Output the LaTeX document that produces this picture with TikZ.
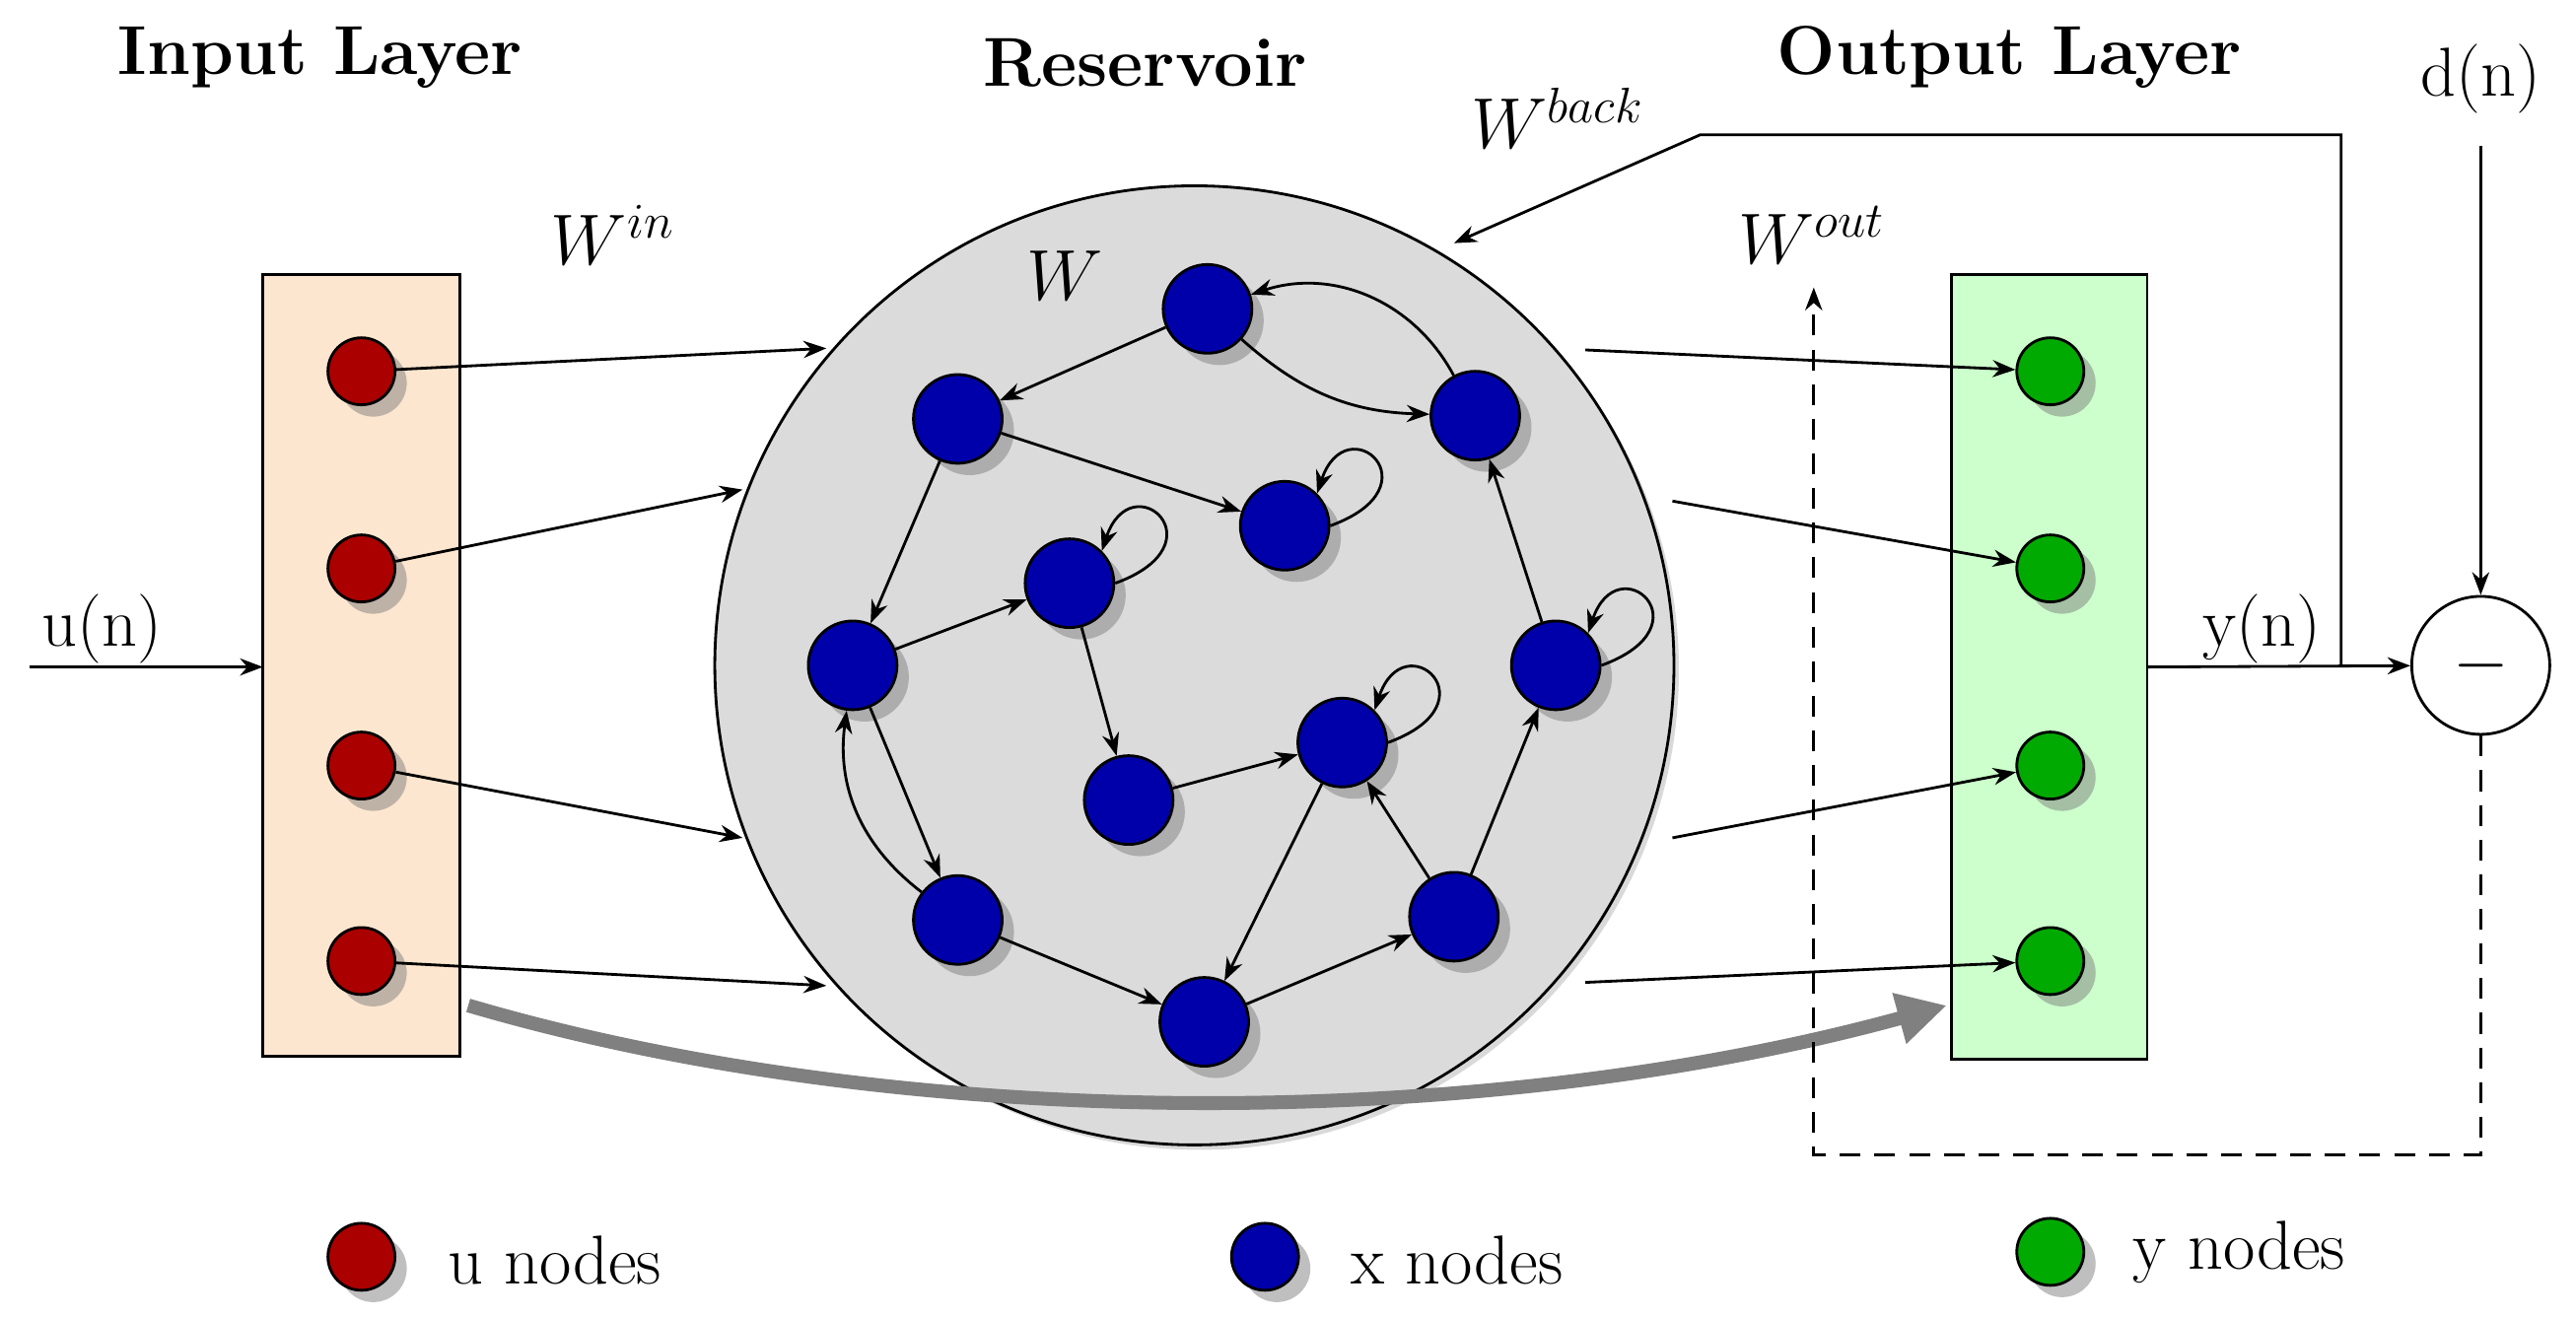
\documentclass[tikz,border=0pt]{standalone}
\usetikzlibrary{shadows,arrows.meta}
\begin{document}
\begin{tikzpicture}[x=1cm/60,y=-1cm/60,>=Stealth,
  every node/.style={font=\fontsize{20}{24}\selectfont},
  unode/.style={circle,draw,thick,fill={rgb,255:red,170;green,0;blue,0},minimum size=0.68cm,inner sep=0pt,drop shadow={shadow xshift=0.12cm,shadow yshift=-0.12cm}},
  ynode/.style={unode,fill={rgb,255:red,0;green,170;blue,0}},
  xnode/.style={circle,draw,thick,fill={rgb,255:red,0;green,0;blue,170},minimum size=0.9cm,inner sep=0pt,drop shadow={shadow xshift=0.12cm,shadow yshift=-0.12cm}},
  con/.style={->,thick},
  title/.style={font=\fontsize{20}{24}\selectfont\bfseries}]
\useasboundingbox (0,0) rectangle (1568,802);
% layers
\draw[thick,fill={rgb,255:red,253;green,230;blue,207}] (160,167) rectangle (280,643);
\draw[thick,fill={rgb,255:red,204;green,255;blue,204}] (1188,167) rectangle (1307,645);
\node[circle,draw,thick,fill=black!14,minimum size=9.73cm,drop shadow={shadow xshift=0.05cm,shadow yshift=-0.05cm,opacity=0.3}] (res) at (727,405) {};
% titles
\node[title] (ti) at (195,35) {Input Layer};
\node[title] (tr) at (697,38) {Reservoir};
\node[title] (to) at (1223,35) {Output Layer};
% u / y nodes
\foreach \i/\y in {1/226,2/346,3/466,4/585}{
  \node[unode] (u\i) at (220,\y) {};
  \node[ynode] (y\i) at (1248,\y) {};
}
% x nodes
\foreach \n/\p in {A/{735,188},B/{583,255},C/{898,253},D/{782,320},E/{651,355},F/{519,405},G/{947,405},H/{687,487},I/{817,452},J/{583,560},K/{733,622},L/{885,558}}
  \node[xnode] (\n) at (\p) {};
% reservoir edges
\draw[con] (A) -- (B);
\draw[con] (A) to[bend right=20] (C);
\draw[con] (C) to[bend right=40] (A);
\draw[con] (B) -- (D);
\draw[con] (B) -- (F);
\draw[con] (F) -- (E);
\draw[con] (E) -- (H);
\draw[con] (H) -- (I);
\draw[con] (F) -- (J);
\draw[con] (J) to[bend left=30] (F);
\draw[con] (J) -- (K);
\draw[con] (K) -- (L);
\draw[con] (L) -- (I);
\draw[con] (I) -- (K);
\draw[con] (L) -- (G);
\draw[con] (G) -- (C);
\foreach \n in {D,E,I,G}
  \draw[con] (\n.east) .. controls +(1.1cm,0.4cm) and +(0.3cm,0.9cm) .. (\n.north east);
% input / output connections
\coordinate (r1) at (503,212); \coordinate (r2) at (452,298);
\coordinate (r3) at (452,510); \coordinate (r4) at (503,600);
\coordinate (s1) at (965,213); \coordinate (s2) at (1018,305);
\coordinate (s3) at (1018,510); \coordinate (s4) at (965,598);
\foreach \i in {1,2,3,4}{
  \draw[con] (u\i) -- (r\i);
  \draw[con] (s\i) -- (y\i);
}
% direct input-output
\draw[-{Triangle[length=0.5cm,width=0.5cm]},line width=4pt,gray] (285,612) .. controls (550,690) and (900,690) .. (1185,612);
% input signal
\coordinate (uin) at (18,406);
\draw[con] (uin) -- (160,406);
\node (ul) at (62,383) {u(n)};
% output and error
\node[circle,draw,thick,fill=white,minimum size=1.4cm] (m) at (1510,405) {$-$};
\draw[con] (1307,406) -- (m);
\node (yl) at (1377,383) {y(n)};
\node (dl) at (1510,48) {d(n)};
\draw[con] (dl.south) ++(0,12) -- (m);
% feedback
\coordinate (fb) at (885,148);
\draw[con] (1425,406) -- (1425,82) -- (1035,82) -- (fb);
% dashed learning path
\coordinate (dw) at (1104,175);
\draw[con,dashed,dash pattern=on 6pt off 4pt] (m.south) -- (1510,703) -- (1104,703) -- (dw);
% weight labels
\node (wb) at (948,72) {$W^{back}$};
\node (wi) at (373,143) {$W^{in}$};
\node (w) at (648,168) {$W$};
\node (wo) at (1103,143) {$W^{out}$};
% legend
\node[unode] (lu) at (220,765) {};
\node[anchor=west] (lut) at (265,767) {u nodes};
\node[xnode,minimum size=0.68cm] (lx) at (770,765) {};
\node[anchor=west] (lxt) at (815,767) {x nodes};
\node[ynode] (ly) at (1248,762) {};
\node[anchor=west] (lyt) at (1291,762) {y nodes};
\end{tikzpicture}
\end{document}
